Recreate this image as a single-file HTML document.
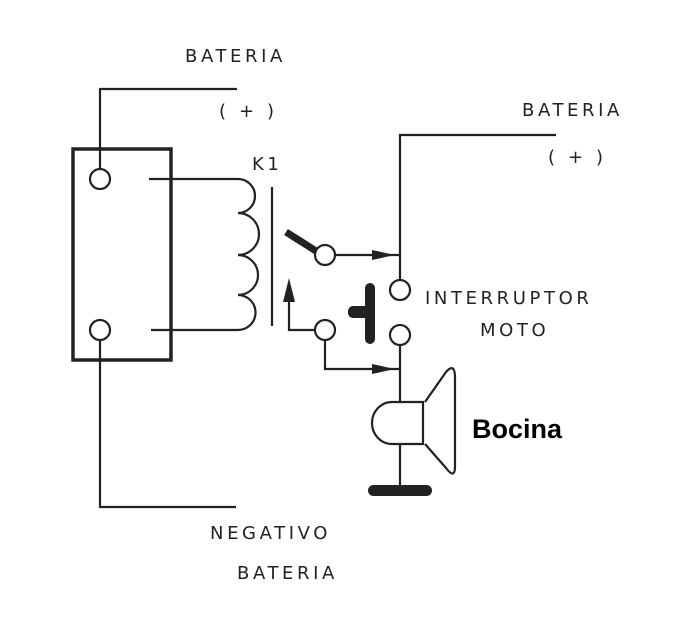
<!DOCTYPE html>
<html><head><meta charset="utf-8"><style>
html,body{margin:0;padding:0;background:#fff;}
svg{display:block}
text{font-family:"DejaVu Sans","Liberation Sans",sans-serif;fill:#222;}
.l{font-size:18px;letter-spacing:3.6px;}
</style></head><body>
<svg width="675" height="629" viewBox="0 0 675 629" xmlns="http://www.w3.org/2000/svg">
<g fill="none" stroke="#222" stroke-width="2.2">
<rect x="73" y="149" width="98" height="211" stroke-width="3.5"/>
<circle cx="100" cy="179" r="10"/>
<circle cx="100" cy="330" r="10"/>
<polyline points="100,169 100,89 237,89"/>
<polyline points="100,340 100,507 236,507"/>
<path d="M149,179 L238,179 A17,17 0 0 1 238,213 A21,21 0 0 1 238,255 A20,20 0 0 1 238,295 A17.5,17.5 0 0 1 238,330 L151,330"/>
<line x1="272" y1="187" x2="272" y2="326"/>
<line x1="286" y1="232" x2="316" y2="251" stroke-width="7"/>
<circle cx="325" cy="255" r="10"/>
<line x1="335" y1="255" x2="400" y2="255"/>
<polyline points="400,280 400,135 556,135"/>
<circle cx="400" cy="290" r="10"/>
<circle cx="400" cy="335" r="10"/>
<circle cx="325" cy="330" r="10"/>
<polyline points="315,330 289,330 289,300"/>
<polyline points="325,340 325,369 400,369"/>
<line x1="400" y1="345" x2="400" y2="402"/>
<path d="M423,402 L392,402 A20,21 0 0 0 392,444 L423,444 Z"/>
<path d="M425,402 L446,372 Q455,362 455,378 L455,466 Q455,480 446,468 L425,444"/>
<line x1="400" y1="444" x2="400" y2="488"/>
</g>
<g fill="#222">
<polygon points="372,250 395,255 372,260"/>
<polygon points="372,364 395,369 372,374"/>
<polygon points="289,278 283,302 295,302"/>
<rect x="365" y="283" width="10" height="61" rx="5"/>
<rect x="348" y="306" width="22" height="12" rx="5"/>
<rect x="368" y="485" width="64" height="11" rx="5.5"/>
</g>
<text class="l" x="185" y="62">BATERIA</text>
<text class="l" x="219" y="117">( + )</text>
<text class="l" x="252" y="170">K1</text>
<text class="l" x="522" y="116">BATERIA</text>
<text class="l" x="548" y="163">( + )</text>
<text class="l" x="425" y="304">INTERRUPTOR</text>
<text class="l" x="480" y="336">MOTO</text>
<text class="l" x="210" y="539">NEGATIVO</text>
<text class="l" x="237" y="579">BATERIA</text>
<text x="472" y="438" style="font-family:'Liberation Sans',sans-serif;font-weight:bold;font-size:27px;fill:#000">Bocina</text>
</svg>
</body></html>
